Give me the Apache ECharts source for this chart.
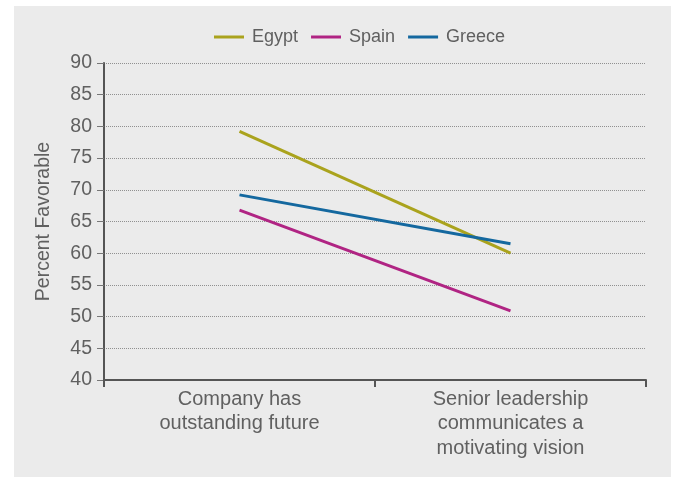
<!DOCTYPE html>
<html>
<head>
<meta charset="utf-8">
<script src="https://cdn.jsdelivr.net/npm/echarts@6/dist/echarts.min.js"></script>
<style>
html,body{margin:0;padding:0;background:#ffffff;}
#chart{width:678px;height:477px;}
</style>
</head>
<body>
<div id="chart"></div>
<script>
var categories = ['Company has\noutstanding future', 'Senior leadership\ncommunicates a\nmotivating vision'];
var seriesNames = ['Egypt', 'Spain', 'Greece'];
var egypt = [79.2, 60.0];
var spain = [66.8, 50.9];
var greece = [69.2, 61.5];
var colors = ['#aaa31d', '#b02483', '#14689f'];

var font = 'Liberation Sans, Arial, sans-serif';
var textColor = '#606060';

var chart = echarts.init(document.getElementById('chart'));
chart.setOption({
  animation: false,
  backgroundColor: '#ffffff',
  graphic: [{
    type: 'rect', z: -10, silent: true,
    shape: {x: 14, y: 6, width: 657, height: 471},
    style: {fill: '#ebebeb'}
  }],
  color: colors,
  legend: {
    top: 23, left: 209,
    icon: 'rect', itemWidth: 30, itemHeight: 3, itemGap: 13,
    textStyle: {fontFamily: font, fontSize: 18, color: textColor, padding: [0, 0, 0, 3]},
    data: seriesNames
  },
  grid: {left: 104, right: 32, top: 63, bottom: 97},
  xAxis: {
    type: 'category',
    data: categories,
    boundaryGap: true,
    axisLine: {lineStyle: {color: '#555555', width: 2}},
    axisTick: {show: true, length: 7, lineStyle: {color: '#555555', width: 2}},
    axisLabel: {fontFamily: font, fontSize: 20, color: textColor, lineHeight: 24.5, margin: 7, interval: 0}
  },
  yAxis: {
    type: 'value', min: 40, max: 90, interval: 5,
    name: 'Percent Favorable', nameLocation: 'middle', nameGap: 50,
    nameTextStyle: {fontFamily: font, fontSize: 19.5, color: textColor},
    axisLine: {show: true, lineStyle: {color: '#555555', width: 2}},
    axisTick: {show: true, length: 7, lineStyle: {color: '#777777', width: 1}},
    axisLabel: {fontFamily: font, fontSize: 19.5, color: textColor, margin: 12},
    splitLine: {show: true, lineStyle: {color: '#909090', type: [1, 1], width: 1}}
  },
  series: [
    {name: seriesNames[0], type: 'line', data: egypt, symbol: 'none', lineStyle: {width: 3}},
    {name: seriesNames[1], type: 'line', data: spain, symbol: 'none', lineStyle: {width: 3}},
    {name: seriesNames[2], type: 'line', data: greece, symbol: 'none', lineStyle: {width: 3}}
  ]
});
</script>
</body>
</html>
